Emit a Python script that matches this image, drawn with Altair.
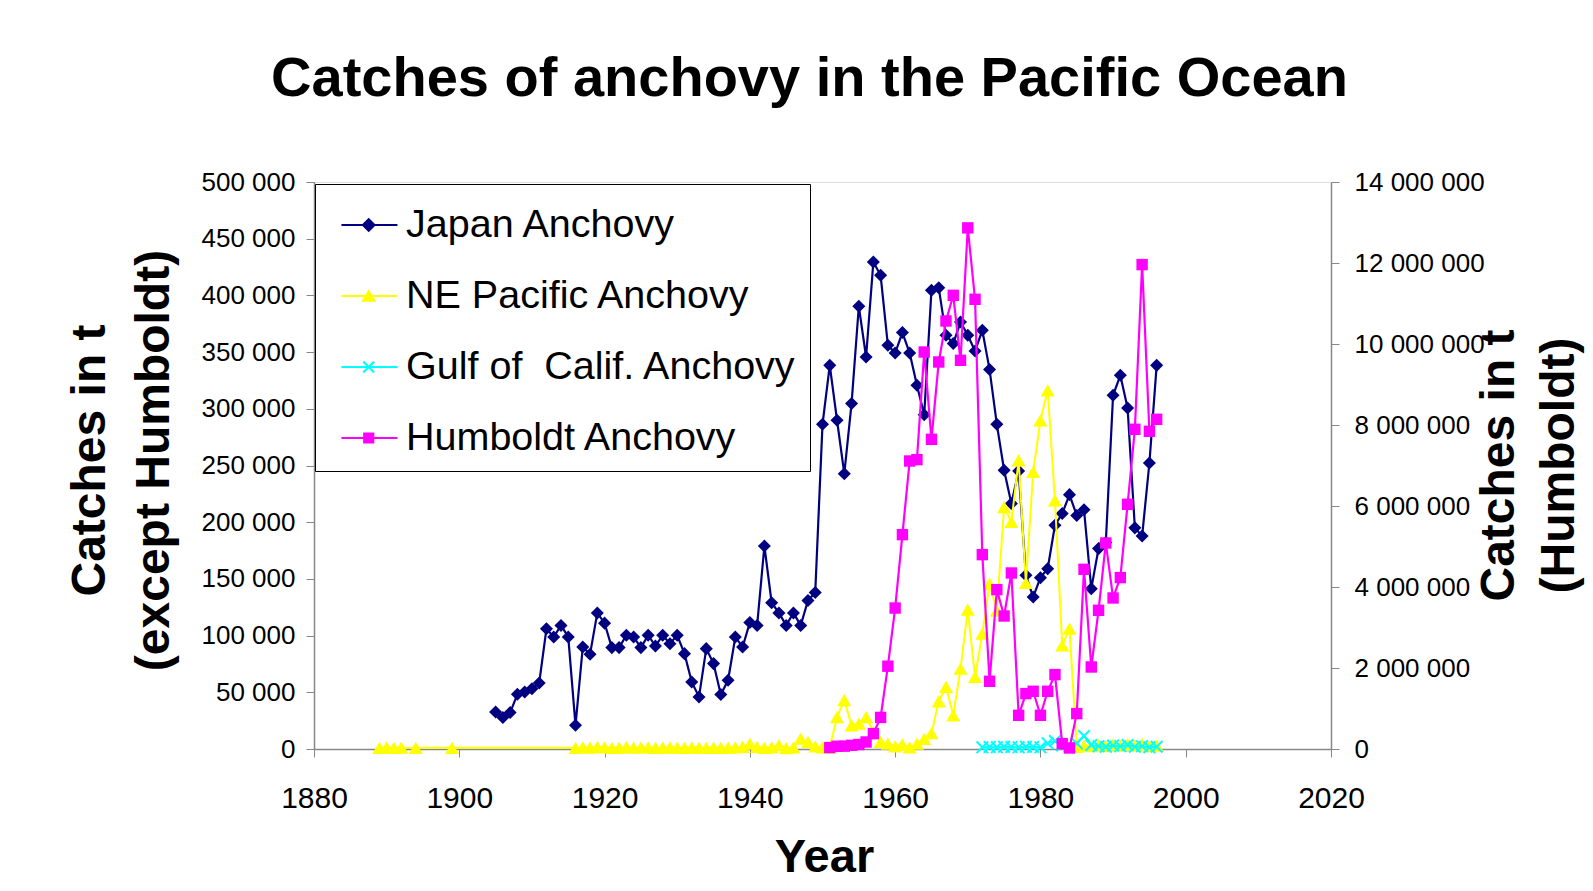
import altair as alt
import pandas as pd

# ---------------- data ----------------
japan_years = list(range(1905, 1997))
japan_vals = [
    32600, 27700, 32100, 48200, 50300, 53200, 58200, 106000, 98800, 109000,
    98800, 20900, 90000, 83500, 120000, 111000, 89400, 89400, 100300, 98800,
    89400, 100300, 90800, 100300, 92900, 100300, 84100, 59100, 45900, 88500,
    75300, 48000, 60600, 98800, 90000, 111500, 109000, 179000, 129000, 120000,
    109000, 120000, 109000, 131000, 138000, 286300, 338300, 289900, 242800, 304600,
    390400, 345700, 429400, 417700, 356000, 349200, 367200, 349200, 320700, 294800,
    404500, 406800, 364800, 357500, 376500, 364800, 351000, 369200, 334600, 286300,
    245800, 216400, 245200, 153200, 134000, 151100, 159000, 197300, 207600, 224300,
    206000, 211000, 141400, 176700, 182000, 311900, 329500, 300700, 195000, 187800,
    252200, 338300,
]

ne_years = [1889, 1890, 1891, 1892, 1894, 1899] + list(range(1916, 1997))
ne_vals = [
    1000, 1500, 1000, 1200, 1000, 1000,
    1000, 1500, 1200, 1800, 1500, 1000, 1300, 1600, 1200, 1400,
    1500, 1100, 1300, 1500, 1200, 1000, 1400, 1200, 1100, 1300,
    1000, 1200, 1500, 1800, 4700, 1800, 1000, 1500, 3500, 800,
    1500, 9100, 6200, 2400, 1500, 1500, 28200, 43000, 20900, 22400,
    28200, 15000, 6200, 4700, 2400, 4000, 1500, 4700, 9000, 14000,
    42000, 54700, 29700, 70900, 122900, 63500, 101700, 145800, 122000, 213400,
    200200, 254600, 146400, 244300, 289800, 316300, 219300, 91400, 106200, 1800,
    3000, 2500, 3500, 2500, 4000, 3000, 4500, 3000, 4500, 2500, 3000,
]

gulf_years = list(range(1972, 1997))
gulf_vals = [
    1500, 1800, 1500, 2000, 1800, 1500, 2000, 1800, 1500, 5000,
    7000, 3000, 2000, 5000, 11500, 3500, 2500, 2000, 3000, 2500,
    3500, 2000, 2500, 1500, 2000,
]

hum_years = list(range(1951, 1997))
hum_vals = [
    35000, 67000, 70000, 91000, 110000, 173000, 380000, 780000, 2045000, 3481000,
    5293000, 7111000, 7145000, 9802000, 7647000, 9556000, 10568000, 11202000, 9597000, 12867000,
    11104000, 4799000, 1672000, 3935000, 3284000, 4346000, 832000, 1368000, 1425000, 832000,
    1425000, 1837000, 133000, 25000, 874000, 4437000, 2025000, 3425000, 5087000, 3729000,
    4232000, 6042000, 7894000, 11960000, 7845000, 8141000,
]

series_names = ["Japan Anchovy", "NE Pacific Anchovy", "Gulf of\u00a0 Calif. Anchovy", "Humboldt Anchovy"]
series_colors = ["#000080", "#FFFF00", "#00FFFF", "#FF00FF"]

x_ticks = list(range(1880, 2021, 20))
left_ticks = list(range(0, 500001, 50000))
right_ticks = list(range(0, 14000001, 2000000))

# ---------------- tables ----------------
df_left = pd.concat([
    pd.DataFrame({"year": japan_years, "value": japan_vals, "series": series_names[0]}),
    pd.DataFrame({"year": ne_years, "value": ne_vals, "series": series_names[1]}),
    pd.DataFrame({"year": gulf_years, "value": gulf_vals, "series": series_names[2]}),
], ignore_index=True)
df_right = pd.DataFrame({"year": hum_years, "value": hum_vals, "series": series_names[3]})
df_legend = pd.DataFrame({"series": series_names})


# ---------------- marker shapes ----------------
def poly(points, scale=1.0, cx=0.0, cy=0.0):
    pts = ["%.4f,%.4f" % (cx + px * scale, cy + py * scale) for px, py in points]
    return "M" + "L".join(pts) + "Z"


def x_points(e):
    return [(-1 + e, -1), (0, -e), (1 - e, -1), (1, -1 + e), (e, 0), (1, 1 - e),
            (1 - e, 1), (0, e), (-1 + e, 1), (-1, 1 - e), (-e, 0), (-1, -1 + e)]


X_SHAPE = poly(x_points(0.22))

# legend symbols: a short line with the marker in its middle
LC = 0.454  # marker centre inside the legend symbol box
line_path = "M-0.52,-0.036H1.48V0.036H-0.52Z"
legend_paths = [
    line_path + poly([(0, -1), (1, 0), (0, 1), (-1, 0)], 0.26, LC),
    line_path + poly([(0, -0.9), (1, 0.75), (-1, 0.75)], 0.27, LC),
    line_path + poly(x_points(0.25), 0.22, LC),
    line_path + poly([(-1, -1), (1, -1), (1, 1), (-1, 1)], 0.2, LC),
]

FONT = "Liberation Sans"

x_enc = alt.X(
    "year:Q",
    scale=alt.Scale(domain=[1880, 2020], nice=False, zero=False),
    axis=alt.Axis(
        values=x_ticks, format="d", labelFontSize=30, labelPadding=26, tickSize=8,
        labelFlush=False, labelOverlap=False, domainWidth=1.5, grid=False,
        title="Year", titleFontSize=47, titleFontWeight="bold",
        titleBaseline="alphabetic", titleAlign="center", titleX=510, titleY=122,
    ),
)

fmt = "replace(format(datum.value, ','), /,/g, ' ')"

y_left = alt.Y(
    "value:Q",
    scale=alt.Scale(domain=[0, 500000], nice=False),
    axis=alt.Axis(
        orient="left", values=left_ticks, labelExpr=fmt, labelFontSize=26,
        labelPadding=11, tickSize=8, labelFlush=False, labelOverlap=False,
        domainWidth=1.5, grid=False,
        title=["Catches in t", "(except Humboldt)"], titleFontSize=48, titleFontWeight="bold",
        titleAngle=270, titleAlign="center", titleBaseline="alphabetic",
        titleX=-210, titleY=278, titleLineHeight=64,
    ),
)

y_right = alt.Y(
    "value:Q",
    scale=alt.Scale(domain=[0, 14000000], nice=False),
    axis=alt.Axis(
        orient="right", values=right_ticks, labelExpr=fmt, labelFontSize=26,
        labelPadding=15, tickSize=8, labelFlush=False, labelOverlap=False,
        domainWidth=1.5, grid=False,
        title=["Catches in t", "(Humboldt)"], titleFontSize=48, titleFontWeight="bold",
        titleAngle=270, titleAlign="center", titleBaseline="alphabetic",
        titleX=182, titleY=283, titleLineHeight=60,
    ),
)


def series_layers(df, name, color, shape, size, y_enc, width=2):
    base = alt.Chart(df).transform_filter(alt.datum.series == name)
    line = base.mark_line(color=color, strokeWidth=width).encode(x=x_enc, y=y_enc)
    pts = base.mark_point(filled=True, shape=shape, size=size, color=color,
                          opacity=1, strokeWidth=0).encode(x=x_enc, y=y_enc)
    return [line, pts]


left = alt.layer(
    *series_layers(df_left, series_names[0], series_colors[0], "diamond", 170, y_left, 2.2),
    *series_layers(df_left, series_names[1], series_colors[1], "triangle-up", 200, y_left),
    *series_layers(df_left, series_names[2], series_colors[2], X_SHAPE, 170, y_left),
)
right = alt.layer(
    *series_layers(df_right, series_names[3], series_colors[3], "square", 130, y_right, 2.2),
)

legend_props = dict(
    title=None, orient="none", legendX=1, legendY=2,
    fillColor="white", strokeColor="black", padding=13, rowPadding=23,
    symbolSize=3136, symbolStrokeWidth=0, symbolOpacity=1,
    labelFontSize=39.5, labelFont=FONT, labelColor="black", labelOffset=22,
    labelLimit=600, cornerRadius=0,
)

legend_layer = alt.Chart(df_legend).mark_point(filled=True, clip=True, opacity=1).encode(
    x=alt.value(-3000),
    y=alt.value(-3000),
    color=alt.Color("series:N", scale=alt.Scale(domain=series_names, range=series_colors),
                    legend=alt.Legend(**legend_props)),
    shape=alt.Shape("series:N", scale=alt.Scale(domain=series_names, range=legend_paths),
                    legend=alt.Legend(**legend_props)),
)

chart = alt.layer(left, right, legend_layer).resolve_scale(
    y="independent"
).properties(
    width=1017,
    height=567,
    autosize="none",
    padding={"left": 306, "top": 174, "right": 254, "bottom": 133},
    title=alt.TitleParams(
        text="Catches of anchovy in the Pacific Ocean", font=FONT, fontSize=56,
        fontWeight="bold", color="black", anchor="middle", frame="group",
        baseline="alphabetic", offset=17, dx=-13,
    ),
).configure_view(
    fill="#E0E0E0", stroke="#808080", strokeWidth=1.5,
).configure_axis(
    grid=False, domainColor="black", tickColor="black", labelColor="black",
    labelFont=FONT, titleFont=FONT, titleColor="black", tickWidth=1.2,
).configure(background="white")

chart.save("out.html", embed_options={"renderer": "svg", "actions": False})
